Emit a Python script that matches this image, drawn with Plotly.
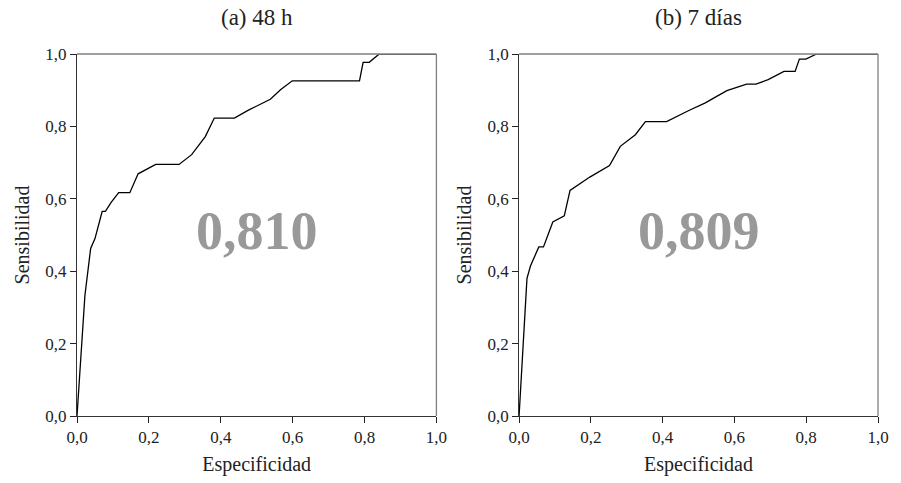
import plotly.graph_objects as go

# ROC curve points (1 - specificity on x, sensitivity on y)
fpr_48h = [0.0, 0.022, 0.038, 0.050, 0.070, 0.079, 0.095, 0.116, 0.147, 0.170,
           0.219, 0.284, 0.319, 0.357, 0.382, 0.438, 0.477, 0.538, 0.567, 0.599,
           0.786, 0.796, 0.813, 0.841, 1.0]
tpr_48h = [0.0, 0.333, 0.463, 0.490, 0.565, 0.565, 0.590, 0.617, 0.617, 0.669,
           0.695, 0.695, 0.722, 0.772, 0.823, 0.823, 0.845, 0.875, 0.902, 0.926,
           0.926, 0.977, 0.977, 1.0, 1.0]

fpr_7d = [0.0, 0.022, 0.032, 0.055, 0.068, 0.094, 0.126, 0.142, 0.197, 0.252,
          0.282, 0.324, 0.352, 0.411, 0.473, 0.519, 0.547, 0.579, 0.634, 0.660,
          0.694, 0.738, 0.769, 0.781, 0.799, 0.829, 1.0]
tpr_7d = [0.0, 0.380, 0.415, 0.467, 0.467, 0.536, 0.553, 0.623, 0.660, 0.692,
          0.745, 0.777, 0.813, 0.813, 0.844, 0.865, 0.881, 0.899, 0.917, 0.917,
          0.929, 0.952, 0.952, 0.986, 0.986, 1.0, 1.0]

auc_labels = ["0,810", "0,809"]
panel_titles = ["(a) 48 h", "(b) 7 días"]
tick_vals = [0.0, 0.2, 0.4, 0.6, 0.8, 1.0]
tick_text = ["0,0", "0,2", "0,4", "0,6", "0,8", "1,0"]

FONT = "Liberation Serif"
DOM_A = [0.0, 0.4487]
DOM_B = [0.5519, 1.0]

fig = go.Figure()
fig.add_trace(go.Scatter(x=fpr_48h, y=tpr_48h, mode="lines",
                         line=dict(color="black", width=1.3),
                         xaxis="x", yaxis="y", showlegend=False, hoverinfo="skip"))
fig.add_trace(go.Scatter(x=fpr_7d, y=tpr_7d, mode="lines",
                         line=dict(color="black", width=1.3),
                         xaxis="x2", yaxis="y2", showlegend=False, hoverinfo="skip"))

axis_common = dict(range=[0, 1], tickvals=tick_vals, ticktext=tick_text,
                   ticks="outside", ticklen=6, tickwidth=1, tickcolor="#222",
                   showline=True, linecolor="#333", linewidth=1,
                   showgrid=False, zeroline=False,
                   tickfont=dict(family=FONT, size=17, color="#222"))

xtitle = dict(text="Especificidad", font=dict(family=FONT, size=20, color="#222"), standoff=10)
ytitle = dict(text="Sensibilidad", font=dict(family=FONT, size=20, color="#222"), standoff=10)

fig.update_layout(
    width=901, height=483,
    margin=dict(l=77, r=15, t=54, b=65),
    plot_bgcolor="white", paper_bgcolor="white",
    font=dict(family=FONT, color="#222"),
    xaxis=dict(domain=DOM_A, anchor="y", title=xtitle, **axis_common),
    yaxis=dict(domain=[0, 1], anchor="x", title=ytitle, **axis_common),
    xaxis2=dict(domain=DOM_B, anchor="y2", title=xtitle, **axis_common),
    yaxis2=dict(domain=[0, 1], anchor="x2", title=ytitle, **axis_common),
)

# grey frame lines on the top and right of each panel
for xr, yr in (("x", "y"), ("x2", "y2")):
    fig.add_shape(type="line", xref=f"{xr} domain", yref=f"{yr} domain",
                  x0=0, x1=1, y0=1, y1=1, line=dict(color="#808080", width=1.3))
    fig.add_shape(type="line", xref=f"{xr} domain", yref=f"{yr} domain",
                  x0=1, x1=1, y0=0, y1=1, line=dict(color="#808080", width=1.3))

# panel titles and AUC values
for i, (xr, yr) in enumerate((("x", "y"), ("x2", "y2"))):
    fig.add_annotation(text=panel_titles[i], xref=f"{xr} domain", yref="paper",
                       x=0.5, y=1, yshift=37, yanchor="middle", showarrow=False,
                       font=dict(family=FONT, size=23, color="#222"))
    fig.add_annotation(text=f"<b>{auc_labels[i]}</b>", xref=xr, yref=yr,
                       x=0.5, y=0.512, showarrow=False,
                       font=dict(family=FONT, size=54, color="#999999"))

fig.write_html("out.html")
